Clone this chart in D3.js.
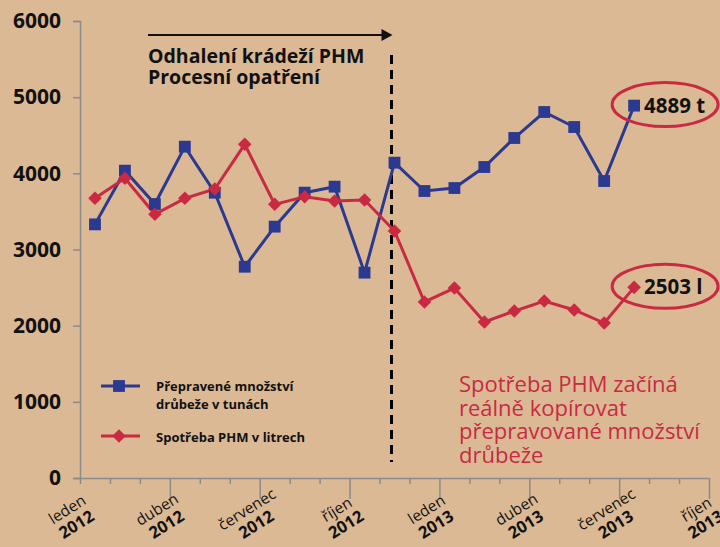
<!DOCTYPE html>
<html><head><meta charset="utf-8">
<script src="https://cdn.jsdelivr.net/npm/d3@7"></script>
<style>body{margin:0;background:#dbb994;}svg{display:block;}</style>
</head><body>
<svg id="c" width="720" height="547"></svg>
<script>
// ---- data ----
const transported = [3330, 4035, 3597, 4350, 3746, 2774, 3300, 3746, 3825, 2696, 4140, 3768, 3807, 4083, 4464, 4805, 4608, 3899, 4889];
const fuel = [3672, 3935, 3462, 3672, 3794, 4381, 3593, 3693, 3637, 3650, 3243, 2311, 2494, 2048, 2192, 2324, 2206, 2035, 2503];
const yTicks = [0, 1000, 2000, 3000, 4000, 5000, 6000];
const tickMonths = ["leden", "duben", "červenec", "říjen", "leden", "duben", "červenec", "říjen"];
const tickYears = ["2012", "2012", "2012", "2012", "2013", "2013", "2013", "2013"];
const seriesNames = [["Přepravené množství", "drůbeže v tunách"], ["Spotřeba PHM v litrech"]];
const eventIndex = 10.4;
const eventText = ["Odhalení krádeží PHM", "Procesní opatření"];
const noteText = ["Spotřeba PHM začíná", "reálně kopírovat", "přepravované množství", "drůbeže"];
const lastLabels = ["4889 t", "2503 l"];

const BLUE = "#2b3990", RED = "#c92a42", AXIS = "#8b8b8b";
const FONT = "'Open Sans', sans-serif";
const svg = d3.select("#c");
svg.append("rect").attr("width", 720).attr("height", 547).attr("fill", "#dbb994");

const x = d3.scaleLinear().domain([0, 21]).range([80, 709]);
const y = d3.scaleLinear().domain([0, 6000]).range([478, 21]);

// y axis
const ya = svg.append("g").attr("transform", "translate(80,0)")
  .call(d3.axisLeft(y).tickValues(yTicks).tickSize(7).tickPadding(12).tickFormat(d3.format("d")));
ya.select(".domain").attr("stroke", AXIS).attr("stroke-width", 1.5);
ya.selectAll(".tick line").attr("stroke", AXIS).attr("stroke-width", 1.5);
ya.selectAll(".tick text").attr("font-family", FONT).attr("font-weight", "bold")
  .attr("font-size", 21).attr("fill", "#111");

// x axis
const xa = svg.append("g").attr("transform", "translate(0,478)")
  .call(d3.axisBottom(x).tickValues(d3.range(0, 22)).tickSize(6).tickSizeOuter(0).tickFormat(""));
xa.select(".domain").attr("stroke", AXIS).attr("stroke-width", 1.5);
xa.selectAll(".tick line").attr("stroke", AXIS).attr("stroke-width", 1.5)
  .attr("y2", d => d % 3 === 0 && d > 0 ? 21 : 6);

// x labels (rotated, two centred lines)
tickMonths.forEach((m, i) => {
  const tx = x(i * 3);
  const g = svg.append("g").attr("transform", `translate(${tx - 10},${514}) rotate(-32)`);
  g.append("text").text(m).attr("font-family", FONT).attr("font-size", 15.5)
    .attr("fill", "#111").attr("text-anchor", "middle").attr("x", 0).attr("y", 0);
  g.append("text").text(tickYears[i]).attr("font-family", FONT).attr("font-weight", "bold")
    .attr("font-size", 16.5).attr("fill", "#111").attr("text-anchor", "middle").attr("x", 0).attr("y", 18);
});

// event arrow and dashed line
const ex = x(eventIndex);
svg.append("line").attr("x1", ex).attr("x2", ex).attr("y1", 55).attr("y2", 462)
  .attr("stroke", "#000").attr("stroke-width", 3).attr("stroke-dasharray", "9,6");
svg.append("line").attr("x1", 148).attr("x2", ex - 8).attr("y1", 35).attr("y2", 35)
  .attr("stroke", "#111").attr("stroke-width", 2);
svg.append("path").attr("d", `M${ex + 1},35 L${ex - 10},29 L${ex - 10},41 Z`).attr("fill", "#111");
eventText.forEach((t, i) => {
  svg.append("text").text(t).attr("x", 148).attr("y", 63 + i * 20.5)
    .attr("font-family", FONT).attr("font-weight", "bold").attr("font-size", 19.5).attr("fill", "#111");
});

// lines
const line = d3.line().x((d, i) => x(i + 0.5)).y(d => y(d));
svg.append("path").datum(transported).attr("d", line).attr("fill", "none")
  .attr("stroke", BLUE).attr("stroke-width", 3);
svg.append("path").datum(fuel).attr("d", line).attr("fill", "none")
  .attr("stroke", RED).attr("stroke-width", 3);

const sq = d3.symbol().type(d3.symbolSquare).size(140);
const dm = d3.symbol().type(d3.symbolSquare).size(92); // rotated 45° => diamond
svg.selectAll(".bm").data(transported).enter().append("path")
  .attr("d", sq).attr("transform", (d, i) => `translate(${x(i + 0.5)},${y(d)})`).attr("fill", BLUE);
svg.selectAll(".rm").data(fuel).enter().append("path")
  .attr("d", dm).attr("transform", (d, i) => `translate(${x(i + 0.5)},${y(d)}) rotate(45)`).attr("fill", RED);

// end labels with ellipses
[transported, fuel].forEach((s, k) => {
  const lx = x(s.length - 0.5), ly = y(s[s.length - 1]);
  svg.append("ellipse").attr("cx", lx + 31).attr("cy", ly - 1).attr("rx", 53).attr("ry", 22)
    .attr("fill", "none").attr("stroke", RED).attr("stroke-width", 3);
  svg.append("text").text(lastLabels[k]).attr("x", lx + 10).attr("y", ly + 7)
    .attr("font-family", FONT).attr("font-weight", "bold").attr("font-size", 20.5).attr("fill", "#111");
});

// legend
const leg = svg.append("g");
leg.append("line").attr("x1", 101).attr("x2", 140).attr("y1", 386).attr("y2", 386).attr("stroke", BLUE).attr("stroke-width", 3);
leg.append("path").attr("d", sq).attr("transform", "translate(119,386)").attr("fill", BLUE);
leg.append("line").attr("x1", 101).attr("x2", 140).attr("y1", 436).attr("y2", 436).attr("stroke", RED).attr("stroke-width", 3);
leg.append("path").attr("d", dm).attr("transform", "translate(119,436) rotate(45)").attr("fill", RED);
seriesNames[0].forEach((t, i) => leg.append("text").text(t).attr("x", 156).attr("y", 391 + i * 18)
  .attr("font-family", FONT).attr("font-weight", "bold").attr("font-size", 13).attr("fill", "#111"));
leg.append("text").text(seriesNames[1][0]).attr("x", 156).attr("y", 442)
  .attr("font-family", FONT).attr("font-weight", "bold").attr("font-size", 13).attr("fill", "#111");

// note
noteText.forEach((t, i) => svg.append("text").text(t).attr("x", 459).attr("y", 392 + i * 23.5)
  .attr("font-family", FONT).attr("font-size", 22).attr("fill", RED));
</script>
</body></html>
